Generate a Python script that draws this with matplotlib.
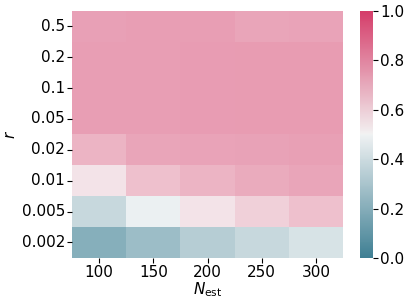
import numpy as np
import matplotlib
matplotlib.use("Agg")
import matplotlib.pyplot as plt
import seaborn as sns

r_labels = ["0.5", "0.2", "0.1", "0.05", "0.02", "0.01", "0.005", "0.002"]
n_labels = ["100", "150", "200", "250", "300"]
values = np.array([
    [0.86, 0.87, 0.87, 0.84, 0.85],
    [0.87, 0.87, 0.875, 0.88, 0.88],
    [0.87, 0.87, 0.875, 0.88, 0.88],
    [0.87, 0.87, 0.875, 0.88, 0.88],
    [0.78, 0.84, 0.85, 0.855, 0.865],
    [0.58, 0.73, 0.78, 0.82, 0.84],
    [0.30, 0.46, 0.58, 0.66, 0.73],
    [0.02, 0.12, 0.23, 0.30, 0.37],
])

cmap = sns.diverging_palette(220, 0, as_cmap=True)
fig = plt.figure(figsize=(4.07, 3.02), dpi=100)
ax = fig.add_axes([0.177, 0.146, 0.666, 0.818])
cax = fig.add_axes([0.885, 0.146, 0.032, 0.818])
sns.heatmap(values, ax=ax, cbar_ax=cax, cmap=cmap, vmin=0, vmax=1, alpha=0.65,
            xticklabels=n_labels, yticklabels=r_labels)
cbar = ax.collections[0].colorbar
cbar.solids.set_alpha(1.0)
ax.tick_params(labelsize=11, pad=1.5)
ax.set_yticklabels(r_labels, rotation=0)
cax.tick_params(labelsize=11, pad=1.5)
ax.set_xlabel(r"$N_{\mathrm{est}}$", fontsize=11, labelpad=0)
ax.set_ylabel(r"$r$", fontsize=11, labelpad=3)
fig.savefig("out.png", dpi=100)
